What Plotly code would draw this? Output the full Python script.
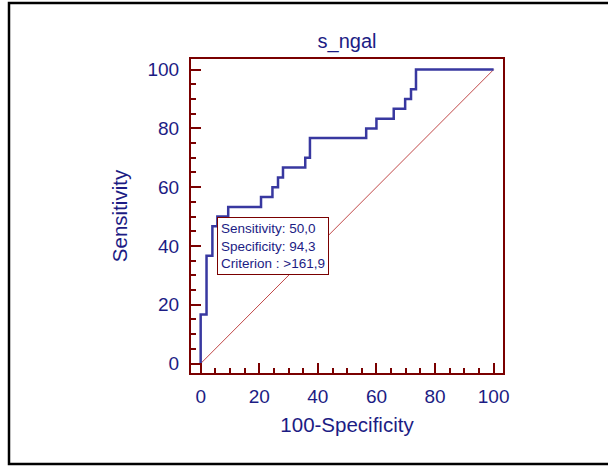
import plotly.graph_objects as go

# ROC curve corner points (100-Specificity, Sensitivity)
fpr = [0, 0, 2.0, 4.0, 5.7, 9.4, 20.6, 24.5, 26.4, 28.1, 35.7, 37.3,
       56.5, 60.0, 65.9, 69.8, 71.8, 73.5, 100]
tpr = [0, 16.7, 36.7, 46.7, 50.0, 53.3, 56.7, 60.0, 63.3, 66.7, 70.0, 76.7,
       80.0, 83.3, 86.7, 90.0, 93.3, 100, 100]

# Reference diagonal
diag_x = [0, 100]
diag_y = [0, 100]

# Optimal criterion point
crit_sens = 50.0
crit_spec = 94.3
crit_value = "161,9"

tick_vals = [0, 20, 40, 60, 80, 100]

navy = "#1c1c84"
frame = "#7a0000"
font_family = "Arial, Liberation Sans, sans-serif"

fig = go.Figure()
fig.add_trace(go.Scatter(x=diag_x, y=diag_y, mode="lines",
                         line=dict(color="#c04848", width=1),
                         hoverinfo="skip", showlegend=False))
fig.add_trace(go.Scatter(x=fpr, y=tpr, mode="lines", line_shape="hv",
                         line=dict(color="#3838a0", width=2.5),
                         showlegend=False))

fig.add_annotation(
    x=100 - crit_spec, y=crit_sens, xref="x", yref="y",
    xanchor="left", yanchor="top", showarrow=False, align="left",
    text=(f"Sensitivity: {crit_sens:.1f}".replace(".", ",") + "<br>"
          + f"Specificity: {crit_spec:.1f}".replace(".", ",") + "<br>"
          + f"Criterion : >{crit_value}"),
    font=dict(family=font_family, size=13.5, color=navy),
    bgcolor="white", bordercolor=frame, borderwidth=1, borderpad=3,
)

# Outer frame around the whole chart
fig.add_shape(type="rect", xref="paper", yref="paper",
              x0=(9 - 191) / 312, x1=(625 - 191) / 312,
              y0=(373 - 464) / 314, y1=(373 - 3) / 314,
              line=dict(color="black", width=2.5), fillcolor="rgba(0,0,0,0)")

axis_common = dict(
    showline=True, linecolor=frame, linewidth=2, mirror=True,
    ticks="inside", ticklen=10, tickwidth=2, tickcolor=frame,
    tickvals=tick_vals, showgrid=False, zeroline=False,
    tickfont=dict(family=font_family, size=19, color=navy),
    minor=dict(ticks="inside", dtick=5, ticklen=5, tickwidth=1.5,
               tickcolor=frame, showgrid=False),
)

fig.update_layout(
    width=608, height=466,
    margin=dict(l=191, r=105, t=59, b=93),
    paper_bgcolor="white", plot_bgcolor="white",
    title=dict(text="s_ngal", x=0.5, xref="paper", y=1 - 41 / 466,
               yanchor="middle",
               font=dict(family=font_family, size=20, color=navy)),
    xaxis=dict(range=[-3.3, 103.2],
               title=dict(text="100-Specificity", standoff=12,
                          font=dict(family=font_family, size=20.5, color=navy)),
               ticklabelstandoff=5, **axis_common),
    yaxis=dict(range=[-3.2, 103.6],
               title=dict(text="Sensitivity", standoff=14,
                          font=dict(family=font_family, size=20.5, color=navy)),
               ticklabelstandoff=6, **axis_common),
)

fig.write_html("out.html")
